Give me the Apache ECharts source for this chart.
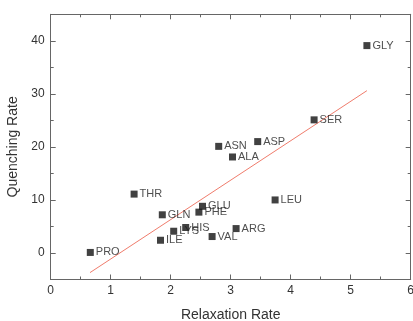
<!DOCTYPE html>
<html><head><meta charset="utf-8">
<script src="https://cdn.jsdelivr.net/npm/echarts@6/dist/echarts.min.js"></script>
<style>html,body{margin:0;padding:0;background:#fff;overflow:hidden}#c{width:413px;height:321px}</style>
</head><body><div id="c"></div>
<script>
var names = ['PRO','ILE','LYS','HIS','VAL','ARG','GLN','PHE','GLU','THR','LEU','ALA','ASN','ASP','SER','GLY'];
var relaxation = [0.66,1.83,2.05,2.25,2.69,3.09,1.86,2.47,2.53,1.39,3.74,3.03,2.80,3.45,4.39,5.27];
var quenching = [0.1,2.4,4.1,4.8,3.1,4.6,7.2,7.7,8.8,11.1,10.0,18.1,20.1,21.0,25.1,39.1];
var fitX = [0.655, 5.27];
var fitY = [-3.7, 30.6];
var yLabels = [0,10,20,30,40];
var yMinor = [5,15,25,35];

var font = 'Liberation Sans, Arial, sans-serif';
var axisColor = '#666';
var pts = names.map(function(n,i){return [relaxation[i], quenching[i], n];});
var fit = fitX.map(function(x,i){return [x, fitY[i]];});

function xAx(pos, show){
  return {type:'value', position:pos, min:0, max:6, interval:1,
    name: show ? 'Relaxation Rate' : '', nameLocation:'middle', nameGap:29,
    nameTextStyle:{fontFamily:font, fontSize:14, color:'#333'},
    axisLine:{show:true, onZero:false, lineStyle:{color:axisColor, width:1}},
    axisTick:{show:true, inside:true, length:5, lineStyle:{color:axisColor}},
    minorTick:{show:true, splitNumber:2, length:3, lineStyle:{color:axisColor}},
    axisLabel:{show:show, margin:5, fontFamily:font, fontSize:12, color:'#333'},
    splitLine:{show:false}, minorSplitLine:{show:false}};
}
function yAx(pos, labels, ticks, len, line){
  return {type:'value', position:pos, min:-5, max:45,
    name: labels ? 'Quenching Rate' : '', nameLocation:'middle', nameGap:25,
    nameTextStyle:{fontFamily:font, fontSize:14, color:'#333'},
    axisLine:{show:line, onZero:false, lineStyle:{color:axisColor, width:1}},
    axisTick:{show:true, inside:true, length:len, customValues:ticks, lineStyle:{color:axisColor}},
    axisLabel:{show:!!labels, margin:6, customValues:yLabels, fontFamily:font, fontSize:12, color:'#333'},
    splitLine:{show:false}};
}

var chart = echarts.init(document.getElementById('c'), null, {renderer:'canvas'});
chart.setOption({
  animation:false,
  backgroundColor:'#fff',
  grid:{left:50.7, right:2.3, top:14.3, bottom:41.5, containLabel:false, outerBoundsMode:'none'},
  xAxis:[xAx('bottom', true), xAx('top', false)],
  yAxis:[yAx('left', true, yLabels, 5, true), yAx('left', false, yMinor, 3, false),
         yAx('right', false, yLabels, 5, true), yAx('right', false, yMinor, 3, false)],
  series:[
    {type:'line', data:fit, xAxisIndex:0, yAxisIndex:0, showSymbol:false, symbol:'none',
     lineStyle:{color:'#f07c6c', width:1}, z:1},
    {type:'scatter', data:pts, xAxisIndex:0, yAxisIndex:0, symbol:'rect', symbolSize:7,
     itemStyle:{color:'#111'}, z:2,
     label:{show:true, position:'right', distance:2, formatter:function(p){return p.data[2];},
       fontFamily:font, fontSize:11, color:'#222'}}
  ]
});
</script></body></html>
